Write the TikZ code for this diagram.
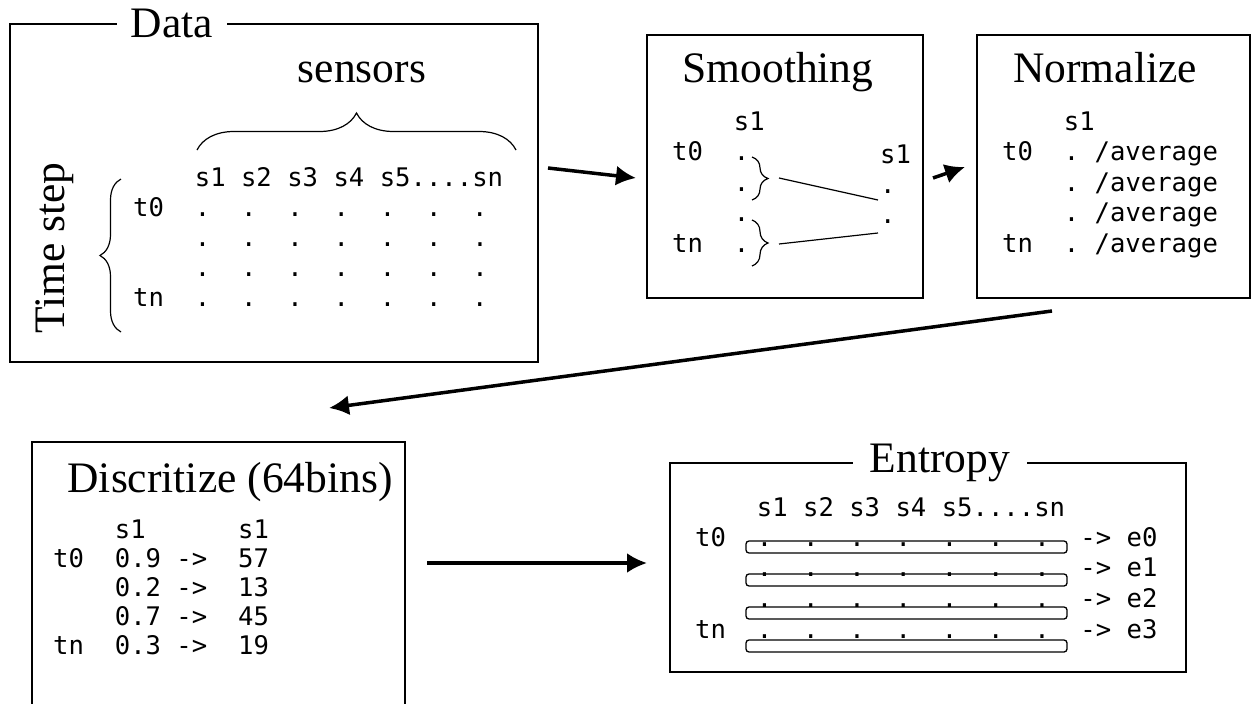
\documentclass[tikz,border=0pt]{standalone}
\usepackage{fontspec}
\setmainfont{Liberation Serif}
\setmonofont{DejaVu Sans Mono}
\usetikzlibrary{arrows.meta,decorations.pathreplacing}

\begin{document}
\begin{tikzpicture}[>=Latex, x=1pt, y=-1pt,
  frame/.style={line width=1.3pt},
  title/.style={font=\fontsize{43.5}{50}\selectfont, anchor=base, inner sep=0pt},
  code/.style={font=\fontsize{25.6}{30}\ttfamily, anchor=base west, inner sep=0pt},
  flow/.style={->, line width=3.5pt, >={Latex[length=20pt,width=20pt]}},
  curly/.style={decorate, line width=1.2pt, decoration={brace, amplitude=#1}}]
  \useasboundingbox (0,0) rectangle (1251,704);
  % Data block
  \draw[frame] (10,24) rectangle (538,362);
  \node[title, fill=white, inner xsep=14pt] (data) at (172,37) {Data};
  \node[title] (sensors) at (362,82) {sensors};
  \draw[curly=37pt] (197,150) -- (516,150);
  \node[title, rotate=90] (timestep) at (64,248) {Time step};
  \draw[curly=21pt] (121,332) -- (121,179);
  \node[code] (dhead) at (133,186) {~~~~s1 s2 s3 s4 s5....sn};
  \foreach \lab [count=\i] in {t0,~~,~~,tn}
    \node[code] (drow\i) at (133,186+30*\i) {\lab~~.~~.~~.~~.~~.~~.~~.};
  % Smoothing block
  \draw[frame] (647,35) rectangle (923,298);
  \node[title] (smooth) at (778,82) {Smoothing};
  \node[code] (shead) at (672,130) {~~~~s1};
  \foreach \lab [count=\i] in {t0,~~,~~,tn}
    \node[code] (srow\i) at (672,130+30.5*\i) {\lab~~.};
  \node[code] (sout) at (880,163) {s1};
  \node[code] (sdot1) at (880,193) {.};
  \node[code] (sdot2) at (880,223) {.};
  \draw[curly=16pt] (752,157) -- (752,200);
  \draw[curly=16pt] (752,220) -- (752,266);
  \coordinate (stip1) at (779,178);
  \coordinate (stip2) at (779,244);
  \draw[line width=1.2pt] (stip1) -- ([shift={(-2,7)}]sdot1.base west);
  \draw[line width=1.2pt] (stip2) -- ([shift={(-2,10)}]sdot2.base west);
  % Normalize block
  \draw[frame] (977,35) rectangle (1250,298);
  \node[title] (norm) at (1105,82) {Normalize};
  \node[code] (nhead) at (1002,130) {~~~~s1};
  \foreach \lab [count=\i] in {t0,~~,~~,tn}
    \node[code] (nrow\i) at (1002,130+30.5*\i) {\lab~~.~/average};
  % Discritize block
  \draw[frame] (32,442) rectangle (405,720);
  \node[title] (disc) at (230,492) {Discritize (64bins)};
  \node[code] (bhead) at (53,538) {~~~~s1~~~~~~s1};
  \foreach \lab/\v/\b [count=\i] in {t0/0.9/57, ~~/0.2/13, ~~/0.7/45, tn/0.3/19}
    \node[code] (brow\i) at (53,538+29*\i) {\lab~~\v~->~~\b};
  % Entropy block
  \draw[frame] (670,463) rectangle (1186,672);
  \node[title, fill=white, inner xsep=17pt] (entropy) at (940,472) {Entropy};
  \node[code] (ehead) at (695,516) {~~~~s1 s2 s3 s4 s5....sn};
  \foreach \lab [count=\i from 0] in {t0,~~,~~,tn} {
    \node[code] (erow\i) at (695,546+30.7*\i) {\lab~~.~~.~~.~~.~~.~~.~~.~~->~e\i};
    \draw[frame, rounded corners=3pt] (746,541+33*\i) rectangle (1067,553+33*\i);
  }
  % flow between blocks
  \coordinate (f1a) at (548,168); \coordinate (f1b) at (636,178);
  \coordinate (f2a) at (933,178); \coordinate (f2b) at (965,167);
  \coordinate (f3a) at (1052,311); \coordinate (f3b) at (329,408);
  \coordinate (f4a) at (427,563); \coordinate (f4b) at (647,563);
  \draw[flow] (f1a) -- (f1b);
  \draw[flow] (f2a) -- (f2b);
  \draw[flow] (f3a) -- (f3b);
  \draw[flow] (f4a) -- (f4b);
\end{tikzpicture}
\end{document}
